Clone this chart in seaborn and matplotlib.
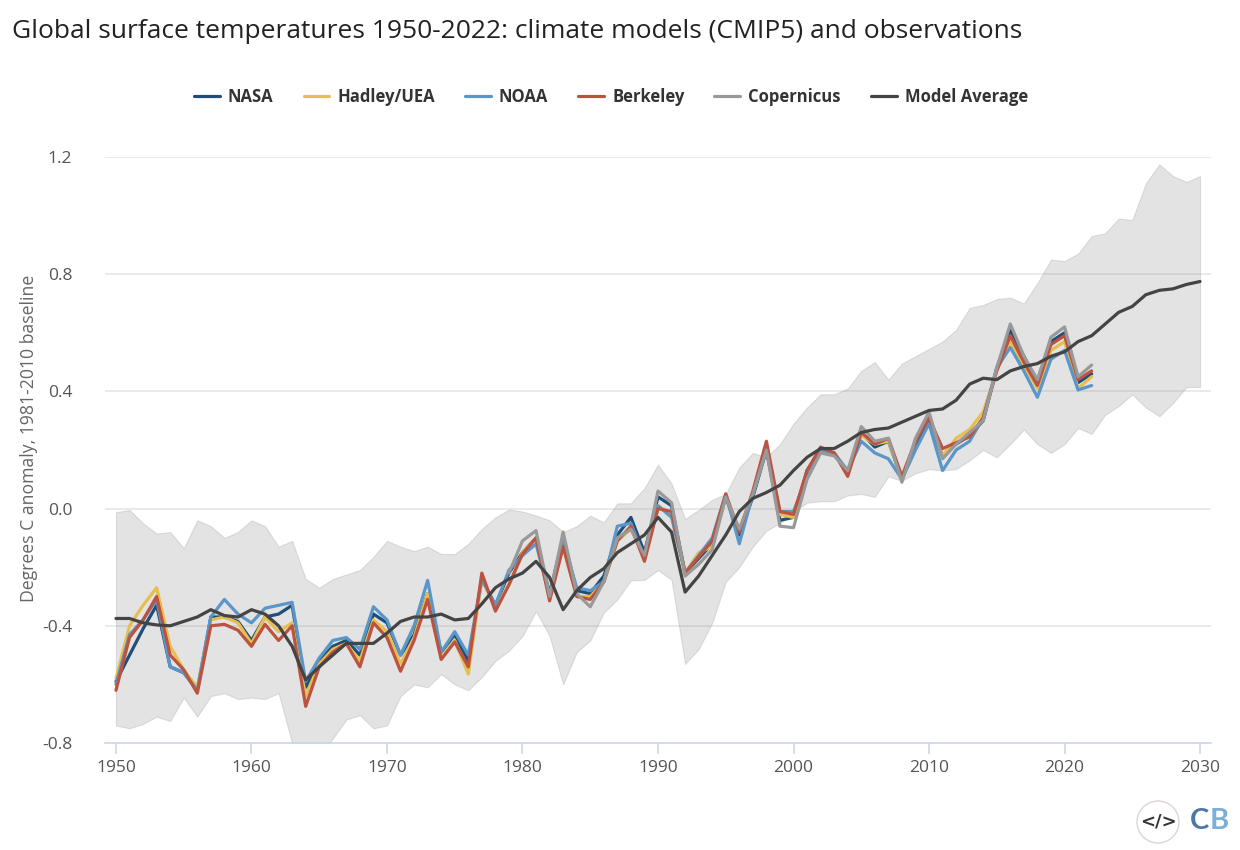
import matplotlib
matplotlib.use('Agg')
import matplotlib.pyplot as plt
import pandas as pd
import seaborn as sns
from matplotlib.patches import Ellipse

# Data #

years_obs = list(range(1950, 2023))
years_model = list(range(1950, 2031))

nasa = [-0.59, -0.50, -0.41, -0.33, -0.54, -0.56, -0.62, -0.37, -0.37, -0.385,
        -0.45, -0.37, -0.36, -0.33, -0.61, -0.52, -0.47, -0.45, -0.50, -0.36,
        -0.39, -0.50, -0.43, -0.29, -0.49, -0.43, -0.52, -0.24, -0.33, -0.22,
        -0.15, -0.10, -0.29, -0.10, -0.28, -0.29, -0.23, -0.09, -0.03, -0.15,
        0.04, 0.01, -0.22, -0.17, -0.12, 0.04, -0.09, 0.04, 0.20, -0.04,
        -0.03, 0.13, 0.20, 0.19, 0.12, 0.26, 0.21, 0.23, 0.10, 0.22,
        0.30, 0.18, 0.22, 0.25, 0.30, 0.48, 0.61, 0.52, 0.43, 0.57,
        0.60, 0.43, 0.46]

hadley = [-0.58, -0.40, -0.33, -0.27, -0.47, -0.55, -0.61, -0.38, -0.37, -0.39,
          -0.46, -0.37, -0.42, -0.39, -0.64, -0.53, -0.48, -0.46, -0.52, -0.38,
          -0.42, -0.53, -0.44, -0.29, -0.51, -0.45, -0.565, -0.24, -0.34, -0.26,
          -0.15, -0.10, -0.30, -0.13, -0.30, -0.30, -0.25, -0.11, -0.07, -0.17,
          0.01, -0.02, -0.22, -0.15, -0.13, 0.04, -0.07, 0.05, 0.21, -0.02,
          -0.03, 0.12, 0.20, 0.19, 0.12, 0.25, 0.22, 0.23, 0.10, 0.23,
          0.32, 0.18, 0.24, 0.27, 0.33, 0.47, 0.57, 0.49, 0.41, 0.54,
          0.57, 0.41, 0.45]

noaa = [-0.60, -0.43, -0.38, -0.31, -0.54, -0.56, -0.62, -0.37, -0.31, -0.36,
        -0.39, -0.34, -0.33, -0.32, -0.59, -0.51, -0.45, -0.44, -0.48, -0.335,
        -0.38, -0.50, -0.40, -0.245, -0.49, -0.42, -0.50, -0.24, -0.33, -0.21,
        -0.16, -0.12, -0.30, -0.11, -0.27, -0.28, -0.25, -0.06, -0.05, -0.17,
        0.01, -0.03, -0.22, -0.16, -0.10, 0.05, -0.12, 0.05, 0.20, -0.01,
        -0.01, 0.11, 0.20, 0.19, 0.13, 0.23, 0.19, 0.17, 0.10, 0.20,
        0.29, 0.13, 0.20, 0.23, 0.31, 0.48, 0.55, 0.47, 0.38, 0.51,
        0.54, 0.405, 0.42]

berkeley = [-0.62, -0.44, -0.38, -0.30, -0.50, -0.55, -0.63, -0.40, -0.395, -0.415,
            -0.47, -0.395, -0.45, -0.40, -0.675, -0.54, -0.49, -0.46, -0.54, -0.39,
            -0.44, -0.555, -0.45, -0.31, -0.515, -0.455, -0.54, -0.22, -0.35, -0.26,
            -0.155, -0.10, -0.315, -0.13, -0.30, -0.31, -0.25, -0.11, -0.06, -0.18,
            0.00, -0.01, -0.22, -0.165, -0.11, 0.05, -0.08, 0.06, 0.23, -0.01,
            -0.02, 0.13, 0.21, 0.19, 0.11, 0.26, 0.22, 0.24, 0.11, 0.23,
            0.31, 0.205, 0.225, 0.245, 0.31, 0.47, 0.59, 0.50, 0.42, 0.56,
            0.59, 0.44, 0.47]

# Copernicus only starts in 1979
years_copernicus = list(range(1979, 2023))
copernicus = [-0.22, -0.11, -0.075, -0.30, -0.08, -0.29, -0.335, -0.25, -0.10, -0.07, -0.16,
              0.06, 0.02, -0.23, -0.19, -0.14, 0.04, -0.07, 0.05, 0.20, -0.06,
              -0.065, 0.10, 0.19, 0.18, 0.13, 0.28, 0.23, 0.24, 0.09, 0.24,
              0.33, 0.17, 0.22, 0.26, 0.30, 0.48, 0.63, 0.52, 0.44, 0.585,
              0.62, 0.45, 0.49]

model_avg = [-0.375, -0.375, -0.39, -0.397, -0.40, -0.385, -0.37, -0.345, -0.365, -0.37,
             -0.345, -0.36, -0.40, -0.47, -0.585, -0.54, -0.50, -0.46, -0.46, -0.46,
             -0.425, -0.385, -0.37, -0.37, -0.36, -0.38, -0.375, -0.325, -0.27, -0.24,
             -0.22, -0.18, -0.235, -0.345, -0.28, -0.235, -0.205, -0.15, -0.12, -0.09,
             -0.03, -0.08, -0.285, -0.23, -0.16, -0.09, -0.01, 0.035, 0.055, 0.08,
             0.13, 0.175, 0.205, 0.205, 0.23, 0.26, 0.27, 0.275, 0.295, 0.315,
             0.335, 0.34, 0.37, 0.425, 0.445, 0.44, 0.47, 0.485, 0.495, 0.52,
             0.535, 0.57, 0.59, 0.63, 0.67, 0.69, 0.73, 0.745, 0.75, 0.765,
             0.775]

model_high = [-0.012, -0.005, -0.05, -0.085, -0.08, -0.135, -0.04, -0.06, -0.10, -0.08,
              -0.04, -0.06, -0.13, -0.11, -0.24, -0.27, -0.24, -0.225, -0.21, -0.165,
              -0.11, -0.13, -0.145, -0.13, -0.155, -0.155, -0.12, -0.07, -0.03, -0.003,
              -0.01, -0.024, -0.04, -0.08, -0.06, -0.024, -0.047, 0.018, 0.018, 0.07,
              0.15, 0.085, -0.035, -0.005, 0.03, 0.05, 0.14, 0.19, 0.175, 0.22,
              0.29, 0.345, 0.39, 0.39, 0.41, 0.47, 0.50, 0.44, 0.495, 0.52,
              0.545, 0.57, 0.61, 0.685, 0.695, 0.715, 0.72, 0.70, 0.77, 0.85,
              0.845, 0.87, 0.93, 0.94, 0.99, 0.985, 1.11, 1.175, 1.135, 1.115,
              1.135]

model_low = [-0.74, -0.75, -0.735, -0.71, -0.725, -0.645, -0.71, -0.64, -0.63, -0.65,
             -0.645, -0.65, -0.63, -0.80, -0.84, -0.84, -0.785, -0.72, -0.705, -0.75,
             -0.74, -0.64, -0.60, -0.61, -0.565, -0.60, -0.62, -0.575, -0.52, -0.485,
             -0.435, -0.35, -0.435, -0.60, -0.49, -0.45, -0.355, -0.31, -0.245, -0.243,
             -0.21, -0.243, -0.53, -0.48, -0.39, -0.25, -0.20, -0.13, -0.075, -0.05,
             -0.01, 0.02, 0.025, 0.025, 0.045, 0.05, 0.04, 0.11, 0.095, 0.12,
             0.135, 0.13, 0.135, 0.165, 0.20, 0.175, 0.22, 0.27, 0.22, 0.19,
             0.22, 0.275, 0.255, 0.32, 0.35, 0.39, 0.345, 0.315, 0.36, 0.415,
             0.415]

x_ticks = [1950, 1960, 1970, 1980, 1990, 2000, 2010, 2020, 2030]
y_ticks = [-0.8, -0.4, 0.0, 0.4, 0.8, 1.2]

title = "Global surface temperatures 1950-2022: climate models (CMIP5) and observations"
y_label = "Degrees C anomaly, 1981-2010 baseline"

colours = {"NASA": "#1f4e79", "Hadley/UEA": "#e6bf4f", "NOAA": "#5a96c8",
           "Berkeley": "#bb5340", "Copernicus": "#999999", "Model Average": "#444444"}

# Long table for seaborn #

frames = []
for name, xs, ys in [("NASA", years_obs, nasa), ("Hadley/UEA", years_obs, hadley),
                     ("NOAA", years_obs, noaa), ("Berkeley", years_obs, berkeley),
                     ("Copernicus", years_copernicus, copernicus),
                     ("Model Average", years_model, model_avg)]:
    frames.append(pd.DataFrame({"year": xs, "anomaly": ys, "series": name}))
df = pd.concat(frames)

sns.set_theme(style="white")
plt.rcParams['font.family'] = ['Open Sans', 'DejaVu Sans']

W, H = 1240, 850
fig = plt.figure(figsize=(W / 100, H / 100), dpi=100)
ax = fig.add_axes([105 / W, 1 - 743 / H, (1211 - 105) / W, (743 - 157) / H])

ax.fill_between(years_model, model_low, model_high, color="#888888", alpha=0.23, lw=0.8, zorder=2)

sns.lineplot(data=df, x="year", y="anomaly", hue="series", palette=colours,
             hue_order=list(colours), linewidth=2.3, errorbar=None, ax=ax, zorder=3)

ax.set_xlim(1949.19, 2030.81)
ax.set_ylim(-0.8, 1.2)
ax.set_xticks(x_ticks)
ax.set_yticks(y_ticks)
ax.set_yticklabels([f"{v:.1f}" for v in y_ticks])
ax.set_xlabel("")
ax.set_ylabel(y_label, fontsize=12.7, color="#666666", labelpad=0)
ax.yaxis.set_label_coords((38 - 105) / (1211 - 105), (743 - 438.5) / (743 - 157))

ax.grid(axis="y", color="#e6e6e6", lw=1.2, zorder=1)
ax.set_axisbelow(True)
sns.despine(ax=ax, left=True, top=True, right=True)
ax.spines["bottom"].set_color("#ccd6eb")
ax.spines["bottom"].set_linewidth(1.2)
ax.tick_params(axis="x", bottom=True, length=8, width=1.2, color="#ccd6eb", labelsize=12.5,
               labelcolor="#555555", pad=4)
ax.tick_params(axis="y", left=False, labelsize=12.5, labelcolor="#555555", pad=17.5)

handles, labels = ax.get_legend_handles_labels()
leg = ax.legend(handles, labels, ncol=6, loc="center", bbox_to_anchor=(611 / W, 1 - 97 / H),
                bbox_transform=fig.transFigure, frameon=False, handlelength=1.55,
                handletextpad=0.48, columnspacing=1.8,
                prop={"size": 12, "weight": "bold"})
for t in leg.get_texts():
    t.set_color("#333333")

fig.text(12 / W, 1 - 31 / H, title, fontsize=19, color="#222222", va="center", ha="left")

# Badge in the lower right corner
fig.add_artist(Ellipse((1158 / W, 1 - 822 / H), 42 / W, 42 / H, transform=fig.transFigure,
                       facecolor="white", edgecolor="#ddd5d5", lw=1))
fig.text(1158 / W, 1 - 822 / H, "</>", fontsize=13, fontweight="bold", color="#333333",
         ha="center", va="center", family=["DejaVu Sans"])
fig.text(1209 / W, 1 - 821 / H, "C", fontsize=21, fontweight="bold", color="#4d77a5",
         ha="right", va="center", family=["Lato"])
fig.text(1209.5 / W, 1 - 821 / H, "B", fontsize=21, fontweight="bold", color="#7aaedb",
         ha="left", va="center", family=["Lato"])

plt.savefig("out.png", dpi=100)
